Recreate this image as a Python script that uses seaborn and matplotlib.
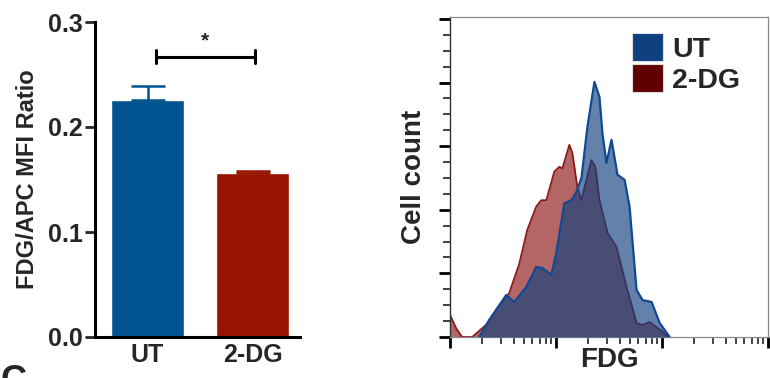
import numpy as np
import pandas as pd
import matplotlib
matplotlib.use("Agg")
import matplotlib.pyplot as plt
from matplotlib.patches import Patch
from matplotlib.ticker import (LogLocator, NullFormatter, MultipleLocator,
                               FixedLocator, FixedFormatter)
import seaborn as sns

# ---- data ----
groups = ["UT", "2-DG"]
ratio_mean = [0.226, 0.156]
ratio_sem = [0.013, 0.002]
ratio_ticks = [0.0, 0.1, 0.2, 0.3]
ratio_ticklabels = ["0.0", "0.1", "0.2", "0.3"]

ut_fdg = [188, 234, 339, 403, 524, 651, 742, 903, 1007, 1198, 1396, 1557, 1738,
          1978, 2305, 2570, 2743, 2992, 3339, 3802, 4436, 4943, 5754, 6561,
          7980, 9506, 11800]
ut_count = [0, 5.3, 13.2, 11, 15.7, 22, 21.7, 19.5, 26.4, 42, 43, 45.6, 50,
            66, 80.2, 75.5, 64, 54.7, 62, 51, 49.4, 41, 14.8, 11.6,
            11, 4.4, 0]

dg_fdg = [100, 114, 130, 162, 219, 272, 362, 450, 535, 651, 726, 810, 964,
          1076, 1148, 1337, 1429, 1592, 1738, 1936, 2158, 2355, 2570, 3062,
          3724, 4634, 5754, 6561, 7640, 8892, 11070, 11800]
dg_count = [7, 2.8, 0, 0, 3.8, 8.5, 13.8, 23, 33.6, 41, 43, 43, 52,
            53.5, 53, 60.4, 57.8, 47, 43, 49.4, 55.6, 53.5, 43, 32.7,
            28.3, 15.7, 4.4, 3.8, 4.7, 3.1, 0.6, 0]

bar_colors = ["#00538f", "#961400"]
ut_line, ut_fill, ut_key = "#0f4a92", "#0e4080", "#0e4080"
dg_line, dg_fill, dg_key = "#8c1818", "#8c1414", "#600000"

sns.set_theme(style="ticks")
plt.rcParams["font.family"] = ["Liberation Sans", "DejaVu Sans"]
plt.rcParams["font.weight"] = "bold"

fig = plt.figure(figsize=(7.7, 3.78), dpi=100)
W, H = 770, 378

def px_axes(x0, y0, x1, y1):
    return fig.add_axes([x0 / W, 1 - y1 / H, (x1 - x0) / W, (y1 - y0) / H])

# ---- bar chart ----
ax1 = px_axes(95, 22, 300, 337)
bars = pd.DataFrame({"group": groups, "ratio": ratio_mean})
sns.barplot(data=bars, x="group", y="ratio", hue="group", palette=bar_colors,
            width=0.69, legend=False, ax=ax1, errorbar=None, saturation=1)
for i, (m, s) in enumerate(zip(ratio_mean, ratio_sem)):
    ax1.errorbar(i, m, yerr=[[0], [s]], color=bar_colors[i], capsize=12,
                 elinewidth=1.8, capthick=1.8, zorder=1)
ax1.set_xlim(-0.5, 1.45)
ax1.set_ylim(0, 0.3)
ax1.yaxis.set_major_locator(FixedLocator(ratio_ticks))
ax1.yaxis.set_major_formatter(FixedFormatter(ratio_ticklabels))
ax1.set_xlabel("")
ax1.set_ylabel("FDG/APC MFI Ratio", fontsize=17, fontweight="bold", labelpad=6)
for side in ("top", "right"):
    ax1.spines[side].set_visible(False)
for side in ("left", "bottom"):
    ax1.spines[side].set_linewidth(2.2)
    ax1.spines[side].set_color("black")
ax1.tick_params(axis="y", length=7, width=2, labelsize=18, pad=2)
ax1.tick_params(axis="x", length=0, labelsize=18, pad=4)
for lab in ax1.get_xticklabels() + ax1.get_yticklabels():
    lab.set_fontweight("bold")

# significance bracket
y_br = 0.267
ax1.plot([0.076, 1.02], [y_br, y_br], color="black", lw=2.2, clip_on=False)
for xb in (0.076, 1.02):
    ax1.plot([xb, xb], [y_br - 0.006, y_br + 0.006], color="black", lw=2.2,
             clip_on=False)
ax1.text(0.55, y_br + 0.006, "*", ha="center", va="bottom", fontsize=15,
         fontweight="bold")

# ---- histogram overlay ----
ax2 = px_axes(450, 17, 768, 337)
ut = pd.DataFrame({"fdg": ut_fdg, "count": ut_count})
dg = pd.DataFrame({"fdg": dg_fdg, "count": dg_count})
ax2.fill_between(dg["fdg"], dg["count"], color=dg_fill, alpha=0.65, lw=0, zorder=1)
sns.lineplot(data=dg, x="fdg", y="count", color=dg_line, lw=1.3, ax=ax2,
             zorder=2, sort=False)
ax2.fill_between(ut["fdg"], ut["count"], color=ut_fill, alpha=0.65, lw=0, zorder=3)
sns.lineplot(data=ut, x="fdg", y="count", color=ut_line, lw=1.6, ax=ax2,
             zorder=4, sort=False)
ax2.set_xscale("log")
ax2.set_xlim(100, 100000)
ax2.set_ylim(0, 100.6)
ax2.xaxis.set_major_locator(LogLocator(base=10, numticks=10))
ax2.xaxis.set_minor_locator(LogLocator(base=10, subs=np.arange(2, 10), numticks=20))
ax2.xaxis.set_major_formatter(NullFormatter())
ax2.xaxis.set_minor_formatter(NullFormatter())
ax2.yaxis.set_major_locator(MultipleLocator(20))
ax2.yaxis.set_minor_locator(MultipleLocator(5))
ax2.yaxis.set_major_formatter(NullFormatter())
ax2.tick_params(axis="both", which="major", length=8, width=2, color="black",
                direction="out")
ax2.tick_params(axis="both", which="minor", length=5, width=1.2, color="#222222",
                direction="out")
for side in ("top", "right", "bottom"):
    ax2.spines[side].set_color("#8a8a8a")
    ax2.spines[side].set_linewidth(0.9)
ax2.spines["left"].set_color("#333333")
ax2.spines["left"].set_linewidth(1.0)
ax2.set_xlabel("FDG", fontsize=20, fontweight="bold", labelpad=-4)
ax2.set_ylabel("Cell count", fontsize=20, fontweight="bold", labelpad=5)

handles = [Patch(facecolor=ut_key, edgecolor="#dddddd", lw=0.8),
           Patch(facecolor=dg_key, edgecolor="#dddddd", lw=0.8)]
ax2.legend(handles, ["UT", "2-DG"], loc="upper left",
           bbox_to_anchor=(632 / W, 1 - 33 / H), bbox_transform=fig.transFigure,
           frameon=False, handlelength=1.1, handleheight=1.15,
           handletextpad=0.3, labelspacing=0.05, borderpad=0, borderaxespad=0,
           prop={"weight": "bold", "size": 20.5})

# panel letter partially visible at the lower edge
fig.text(0.0, 1 - 364 / H, "C", fontsize=26, fontweight="bold", ha="left",
         va="top")

fig.savefig("out.png", dpi=100)
